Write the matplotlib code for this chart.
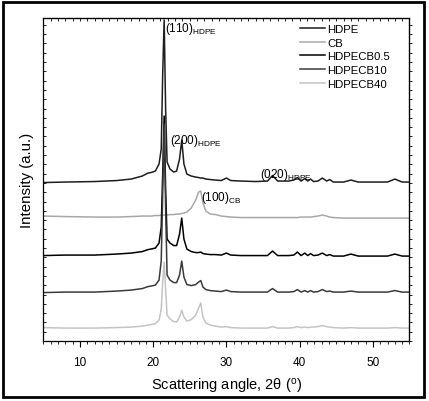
import matplotlib
matplotlib.use("Agg")
import matplotlib.pyplot as plt
from matplotlib.ticker import MultipleLocator, NullFormatter
from matplotlib.patches import Rectangle

plt.rcParams['font.family'] = ['Liberation Sans', 'DejaVu Sans']
plt.rcParams['mathtext.fontset'] = 'custom'
plt.rcParams['mathtext.rm'] = 'Liberation Sans'
plt.rcParams['mathtext.it'] = 'Liberation Sans:italic'

# 2-theta sampling positions (degrees)
two_theta = [5, 8, 12, 15, 17, 18.5, 19.3, 19.7, 20.3, 20.8,
             21.1, 21.3, 21.5, 21.7, 21.9, 22.3, 22.8, 23.2, 23.6, 23.9,
             24.2, 24.6, 25.2, 25.8, 26.2, 26.5, 26.8, 27.2, 27.8, 28.5,
             29.3, 30.0, 30.6, 32, 34, 35.6, 36.3, 37.0, 38.5, 39.2,
             39.7, 40.2, 40.7, 41.1, 41.5, 41.9, 42.5, 43.1, 43.7, 44.1,
             44.6, 46, 47, 48, 50, 52, 53, 54, 55]

# stacked intensities (a.u., vertical offsets included)
hdpe = [158.5, 159, 159.5, 160.5, 162, 165, 168, 168.5, 170, 177,
        192, 267, 321, 232, 179, 172, 169, 170, 182, 201,
        177, 167, 165, 164, 163.5, 163, 163, 162, 161.5, 161,
        160.5, 163, 160.5, 160, 159.5, 160, 165.5, 160, 160, 161,
        163.5, 160, 162.5, 160, 162, 159.5, 160, 163, 160, 161.5,
        159, 159, 161, 159, 159, 159, 162, 159, 159]

cb = [125, 124.5, 124, 124, 124.5, 125, 125, 125, 125.5, 125.5,
      126, 126, 126, 126, 126, 126.5, 126.5, 127, 127, 127.5,
      128, 129, 133, 141, 149, 150, 138, 130, 127, 126.5,
      125, 124.5, 124, 123.5, 123.5, 123.5, 123.5, 123.5, 123.5, 123.5,
      123.5, 124, 124, 124, 124, 124.5, 125, 126, 125, 124,
      123.5, 123, 123, 123, 123, 123, 123, 123, 123]

hdpecb05 = [85.5, 86, 86, 87, 88, 89.5, 91.5, 92, 93, 98,
            114, 167, 225, 152, 102, 98, 95.5, 95.5, 107, 123,
            102, 92, 89.5, 88.5, 88.5, 89, 87.5, 87, 86.5, 86.5,
            86, 88, 86, 85.5, 85.5, 85.5, 90, 85.5, 85.5, 86,
            89, 85.5, 88, 85.5, 87.5, 85.5, 86, 88, 85.5, 86.5,
            85, 85, 87, 85, 85, 85, 87, 85, 85]

hdpecb10 = [48.5, 49, 49, 50, 51, 52.5, 54.5, 55, 56, 61,
            80, 147, 217, 132, 66, 61, 58.5, 58.5, 66, 80,
            64, 56.5, 55.5, 56.5, 59, 60.5, 54, 51.5, 50.5, 50,
            49.5, 51, 49.5, 49, 49, 49, 52.5, 49, 49, 49.5,
            51.5, 49, 50.5, 49, 50.5, 49, 49.5, 51.5, 49.5, 50,
            49, 49, 50, 49, 49, 49, 50.5, 49, 49]

hdpecb40 = [13.5, 13, 13, 13.5, 14, 15, 16, 16.5, 17.5, 21,
            32, 59, 79, 52, 26, 22, 19.5, 19, 24, 31,
            24, 20, 21.5, 26, 33, 38, 24, 18, 16, 15,
            14, 14.5, 13.5, 13, 13, 13, 14.5, 13, 13, 13.5,
            14.5, 13.5, 14, 13.5, 14, 14, 14.5, 15.5, 14.5, 14,
            13.5, 13, 13.5, 13, 13, 13, 13.5, 13, 13]

labels = ['HDPE', 'CB', 'HDPECB0.5', 'HDPECB10', 'HDPECB40']
colors = ['#1e1e1e', '#a8a8a8', '#000000', '#3a3a3a', '#c4c4c4']
series = [hdpe, cb, hdpecb05, hdpecb10, hdpecb40]

fig = plt.figure(figsize=(4.29, 4.02), dpi=100)
ax = fig.add_axes([0.101, 0.149, 0.8535, 0.803])

for y, lab, c in zip(series, labels, colors):
    ax.plot(two_theta, y, color=c, lw=1.1, label=lab)

ax.set_xlim(5, 55)
ax.set_ylim(0, 322.7)

ax.xaxis.set_major_locator(MultipleLocator(10))
ax.xaxis.set_minor_locator(MultipleLocator(1))
ax.yaxis.set_major_locator(MultipleLocator(9.3))
ax.yaxis.set_major_formatter(NullFormatter())

ax.tick_params(axis='x', which='major', direction='out', length=4.5, width=0.8,
               pad=6, labelsize=8.5, top=False)
ax.tick_params(axis='x', which='minor', direction='out', length=2.5, width=0.6, top=False)
ax.tick_params(axis='y', which='major', direction='in', length=2, width=0.6,
               left=True, right=False)

# secondary ticks on top and right sides
axt = ax.secondary_xaxis('top')
axt.xaxis.set_major_locator(MultipleLocator(1))
axt.tick_params(direction='in', length=2, width=0.6, labeltop=False)
axr = ax.secondary_yaxis('right')
axr.yaxis.set_major_locator(MultipleLocator(9.3))
axr.tick_params(direction='out', length=2, width=0.6, labelright=False)

for s in ax.spines.values():
    s.set_linewidth(0.9)

ax.set_xlabel('Scattering angle, 2\u03b8 ($^{\\mathrm{o}}$)', fontsize=10.5, labelpad=6)
ax.set_ylabel('Intensity (a.u.)', fontsize=10.8, labelpad=3)

ann = dict(fontsize=8.5, va='top', ha='left')
ax.text(21.6, 321, '(110)$_{\\mathrm{HDPE}}$', **ann)
ax.text(22.3, 209, '(200)$_{\\mathrm{HDPE}}$', **ann)
ax.text(34.6, 175, '(020)$_{\\mathrm{HDPE}}$', **ann)
ax.text(26.5, 152, '(100)$_{\\mathrm{CB}}$', **ann)

leg = ax.legend(loc='upper left', bbox_to_anchor=(0.70, 0.983), frameon=False,
                fontsize=8.2, handlelength=2.2, handletextpad=0.25,
                labelspacing=0.33, borderpad=0, borderaxespad=0)

fig.add_artist(Rectangle((0.008, 0.01), 0.98, 0.982, transform=fig.transFigure,
                         fill=False, edgecolor='black', linewidth=2.0))

fig.savefig('out.png', dpi=100)
